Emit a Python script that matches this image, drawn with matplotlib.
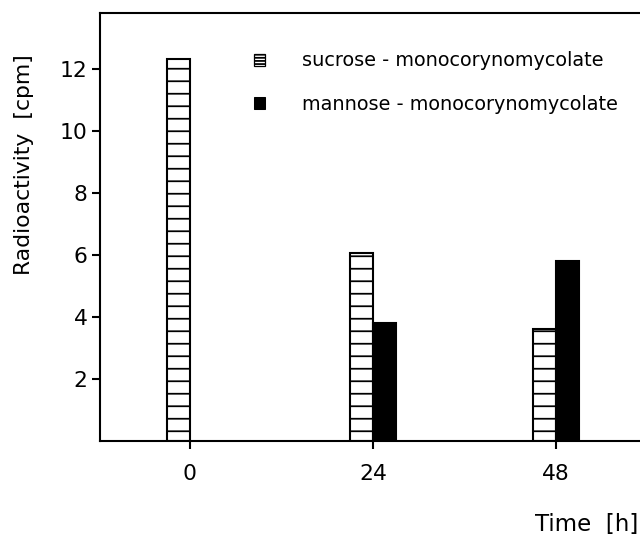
import numpy as np
import matplotlib
matplotlib.use("Agg")
import matplotlib.pyplot as plt
from matplotlib.patches import Patch

# values
times = [0, 24, 48]
time_labels = ["0", "24", "48"]
sucrose = [12.3, 6.05, 3.6]
mannose = [np.nan, 3.8, 5.8]
y_ticks = [2, 4, 6, 8, 10, 12]

plt.rcParams["font.family"] = ["DejaVu Sans"]
plt.rcParams["hatch.linewidth"] = 1.7
plt.rcParams["hatch.color"] = "black"

dpi = 75
fig = plt.figure(figsize=(640 / dpi, 541 / dpi), dpi=dpi)
ax = fig.add_axes([0.156, 0.185, 0.844, 0.791])

width = 3.0
t = np.array(times, dtype=float)
ax.bar(t - width / 2, sucrose, width, facecolor="white", edgecolor="black",
       hatch="-", linewidth=2)
ax.bar(t + width / 2, mannose, width, facecolor="black", edgecolor="black",
       linewidth=2)

ax.set_xlim(-11.8, 59)
ax.set_ylim(0, 13.8)
ax.set_xticks(times)
ax.set_xticklabels(time_labels)
ax.set_yticks(y_ticks)

for s in ["left", "bottom", "top"]:
    ax.spines[s].set_linewidth(2)
ax.spines["right"].set_visible(False)
ax.tick_params(axis="both", direction="out", length=8, width=2,
               labelsize=21, pad=4)
ax.tick_params(axis="x", pad=14)

ax.set_ylabel("Radioactivity  [cpm]", fontsize=21)
ax.yaxis.set_label_coords(-0.122, 0.645)
fig.text(0.997, 0.018, "Time  [h]", fontsize=22, ha="right", va="baseline")

handles = [Patch(facecolor="white", edgecolor="black", hatch="----", linewidth=1.2),
           Patch(facecolor="black", edgecolor="black")]
labels = ["sucrose - monocorynomycolate", "mannose - monocorynomycolate"]
ax.legend(handles, labels, loc="upper left", bbox_to_anchor=(0.285, 0.91),
          frameon=False, fontsize=18.5, handlelength=0.6, handleheight=0.6,
          handletextpad=1.9, labelspacing=1.25, borderpad=0, borderaxespad=0)

fig.savefig("out.png", dpi=dpi)
